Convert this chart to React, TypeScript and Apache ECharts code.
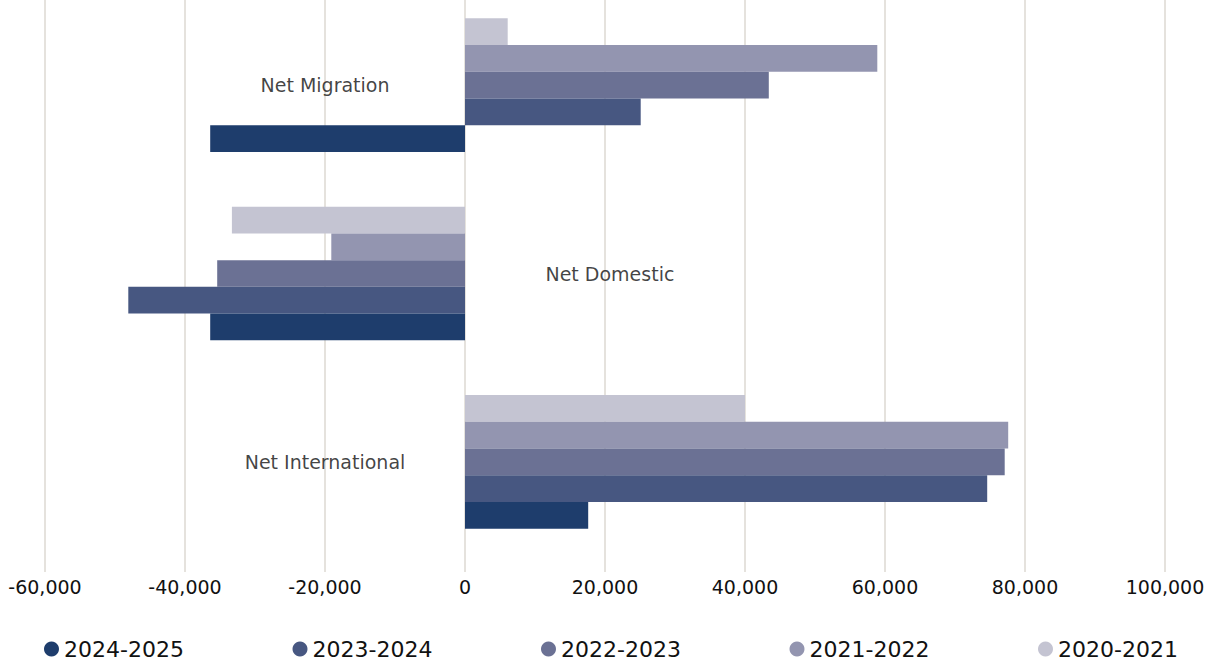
import React, { useEffect, useRef } from "react";
import * as echarts from "echarts";

const categories = ["Net International", "Net Domestic", "Net Migration"];
const seriesNames = ["2024-2025", "2023-2024", "2022-2023", "2021-2022", "2020-2021"];
const v2024_2025 = [17600, -36400, -36400];
const v2023_2024 = [74600, -48100, 25100];
const v2022_2023 = [77100, -35400, 43400];
const v2021_2022 = [77600, -19100, 58900];
const v2020_2021 = [40000, -33300, 6100];
const seriesValues = [v2024_2025, v2023_2024, v2022_2023, v2021_2022, v2020_2021];
const colors = ["#1e3d6c", "#475781", "#6b7194", "#9395b0", "#c4c4d2"];
const labelX = [-20000, 20700, -20000];

const FONT = "'DejaVu Sans', sans-serif";

export default function App() {
  const ref = useRef<HTMLDivElement>(null);
  useEffect(() => {
    const chart = echarts.init(ref.current!, null, { renderer: "svg" });
    const order = [4, 3, 2, 1, 0];
    chart.setOption({
      animation: false,
      grid: { left: 45, right: 50, top: 8, bottom: 106 },
      xAxis: {
        type: "value",
        min: -60000,
        max: 100000,
        interval: 20000,
        axisLine: { show: false },
        axisTick: { show: true, length: 16, lineStyle: { color: "#dcd9d2", width: 1.5 } },
        splitLine: { show: true, lineStyle: { color: "#dcd9d2", width: 1.5 } },
        axisLabel: {
          margin: 21,
          color: "#111111",
          fontSize: 19,
          fontFamily: FONT,
          formatter: (v: number) => v.toLocaleString("en-US"),
        },
      },
      yAxis: {
        type: "category",
        data: categories,
        axisLine: { show: false },
        axisTick: { show: false },
        axisLabel: { show: false },
      },
      legend: seriesNames.map((n, i) => ({
        data: [n],
        left: 44 + i * 248.5,
        top: 655,
        icon: "circle",
        itemWidth: 15,
        itemHeight: 15,
        itemGap: 0,
        padding: 0,
        textStyle: { fontSize: 22, lineHeight: 22, color: "#111111", fontFamily: FONT },
      })),
      series: [
        ...order.map((i) => ({
          name: seriesNames[i],
          type: "bar",
          data: seriesValues[i],
          barGap: "0%",
          barCategoryGap: "29%",
          itemStyle: { color: colors[i] },
        })),
        {
          name: "labels",
          type: "scatter",
          symbolSize: 1,
          itemStyle: { color: "transparent" },
          data: categories.map((c, i) => [labelX[i], c]),
          label: {
            show: true,
            position: "inside",
            formatter: (p: any) => categories[p.dataIndex],
            fontSize: 19,
            color: "#111111",
            fontFamily: FONT,
          },
          silent: true,
        },
      ],
    });
    return () => chart.dispose();
  }, []);
  return (
    <div
      ref={ref}
      style={{ position: "absolute", left: 0, top: -17, width: 1215, height: 679 }}
    />
  );
}
